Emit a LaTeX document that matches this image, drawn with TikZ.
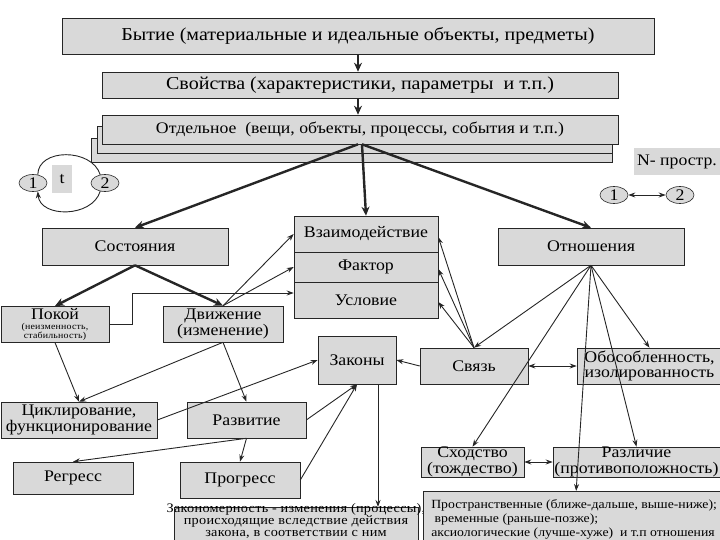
\documentclass[tikz,border=0pt]{standalone}
\usepackage{fontspec}
\setmainfont{Liberation Serif}[FakeStretch=1.1]
\newfontfamily\diagfont{Liberation Serif}[FakeStretch=1.1]
\newfontfamily\notefont{Liberation Serif}[FakeStretch=1.1,LetterSpace=2]
\usetikzlibrary{arrows.meta,shapes.geometric}

\definecolor{boxgray}{RGB}{217,217,217}
\newcommand{\fhead}{\diagfont\fontsize{18.2}{20}\selectfont}
\newcommand{\fbig}{\diagfont\fontsize{16.2}{15.5}\selectfont}
\newcommand{\fmid}{\diagfont\fontsize{16.1}{17}\selectfont}
\newcommand{\fnote}{\notefont\fontsize{13}{12.3}\selectfont}
\newcommand{\flist}{\diagfont\fontsize{12.5}{14}\selectfont}
\newcommand{\ftiny}{\notefont\fontsize{9}{9}\selectfont}

\tikzset{
  box/.style={draw=black!85, fill=boxgray, line width=0.6pt, inner sep=1pt,
    align=center, font=\fbig},
  oval/.style={ellipse, draw=black!85, fill=boxgray, line width=0.6pt,
    inner sep=0pt, minimum width=28pt, minimum height=17pt, font=\fbig},
  tag/.style={fill=boxgray, inner sep=0pt, font=\fbig},
  mainlink/.style={-{Stealth[length=9pt,width=8pt]}, line width=2.4pt, black!85},
  link/.style={-{Stealth[length=7pt,width=5pt]}, line width=0.9pt, black!85},
  duallink/.style={{Stealth[length=7pt,width=5pt]}-{Stealth[length=7pt,width=5pt]},
    line width=0.9pt, black!85},
}

\begin{document}
\begin{tikzpicture}[x=1pt,y=-1pt]
  \useasboundingbox (0,0) rectangle (720,540);

  % Top chain
  \node[box, font=\fhead, minimum width=592pt, minimum height=36pt] (byt) at (358,36)
    {Бытие (материальные и идеальные объекты, предметы)};
  \node[box, font=\fhead, minimum width=516pt, minimum height=26pt] (svo) at (360,85)
    {Свойства (характеристики, параметры\ \ и т.п.)};
  % stacked boxes behind
  \draw[draw=black!85, fill=boxgray, line width=0.6pt] (91,138) rectangle (612,162);
  \draw[draw=black!85, fill=boxgray, line width=0.6pt] (97,126) rectangle (612,153);
  \node[box, font=\fmid, minimum width=516pt, minimum height=29pt] (otd) at (360,129.5)
    {Отдельное\ \ (вещи, объекты, процессы, события и т.п.)};

  % Time and space marks
  \node[oval] (t1) at (33,183) {1};
  \node[oval] (t2) at (105,183) {2};
  \node[tag, minimum width=20pt, minimum height=28pt] (tt) at (62,179) {t};
  \node[tag, minimum width=86pt, minimum height=27pt, font=\fmid] (np) at (677,161.5) {N- простр.};
  \node[oval] (n1) at (614,195) {1};
  \node[oval] (n2) at (680,195) {2};

  % Middle level
  \node[box, minimum width=186pt, minimum height=37pt] (sost) at (135,246.5) {Состояния};
  \node[box, minimum width=144pt, minimum height=36pt] (vz) at (366,234) {Взаимодействие};
  \node[box, minimum width=144pt, minimum height=30pt] (fak) at (366,267) {Фактор};
  \node[box, minimum width=144pt, minimum height=36pt] (usl) at (366,300) {Условие};
  \node[box, minimum width=186pt, minimum height=37pt] (otn) at (591,246.5) {Отношения};

  \node[box, font=\ftiny, minimum width=108pt, minimum height=36pt, inner sep=0pt,
    anchor=north] (pok) at (55,306)
    {{\fbig Покой}\\[1.5pt](неизменность,\\стабильность)};
  \node[box, minimum width=120pt, minimum height=36pt] (dvi) at (223,324)
    {Движение\\(изменение)};
  \node[box, minimum width=78pt, minimum height=48pt] (zak) at (357,360) {Законы};
  \node[box, minimum width=108pt, minimum height=36pt] (svz) at (474,366) {Связь};
  \node[box, minimum width=145pt, minimum height=36pt, inner sep=0pt] (obo) at (649.5,366)
    {Обособленность,\\изолированность};

  % Lower level
  \node[box, minimum width=156pt, minimum height=36pt, inner sep=0pt] (cik) at (79,420)
    {Циклирование,\\функционирование};
  \node[box, minimum width=119pt, minimum height=36pt] (raz) at (246.5,420) {Развитие};
  \node[box, minimum width=120pt, minimum height=32pt] (reg) at (73,478) {Регресс};
  \node[box, minimum width=120pt, minimum height=36pt] (pro) at (240,480) {Прогресс};
  \node[box, minimum width=103pt, minimum height=30pt, inner sep=0pt] (sho) at (472.5,462)
    {Сходство\\(тождество)};
  \node[box, minimum width=167pt, minimum height=30pt, inner sep=0pt] (rzl) at (636.5,462)
    {Различие\\(противоположность)};

  % Bottom notes
  \node[box, minimum width=244pt, minimum height=40pt, anchor=north] (zkm) at (296,507) {};
  \node[font=\fnote, align=center, inner sep=0pt, anchor=north] (zkmtxt)
    at ([yshift=4pt]zkm.north)
    {Закономерность - изменения (процессы),\\происходящие вследствие действия\\закона, в соответствии с ним};
  \node[box, font=\flist, minimum width=300pt, minimum height=56pt, anchor=north west,
    align=left, inner xsep=8pt, inner ysep=4pt] (prs) at (423,491)
    {Пространственные (ближе-дальше, выше-ниже);\\\ временные (раньше-позже);\\аксиологические (лучше-хуже)\ \ и т.п отношения};

  % Main arrows
  \draw[mainlink] (byt.south) -- (svo.north -| byt.south);
  \draw[mainlink] (svo.south -| byt.south) -- (otd.north -| byt.south);
  \draw[mainlink] ([xshift=-2pt]otd.south) -- (sost.north);
  \draw[mainlink] ([xshift=2pt]otd.south) -- (vz.north);
  \draw[mainlink] ([xshift=2pt]otd.south) -- (otn.north);
  \draw[mainlink] (sost.south) -- (pok.north);
  \draw[mainlink] (sost.south) -- (dvi.north);

  % Cycle and space
  \draw[line width=0.9pt, black!85] (t1.60) .. controls (38,148) and (92,148) .. (t2.120);
  \draw[link] (t2.240) .. controls (92,218) and (40,218) .. (t1.300);
  \draw[duallink] (n1.east) -- (n2.west);

  % Thin arrows
  \draw[link] (pok.east) -- ++(23,0) |- ([yshift=7pt]usl.west);
  \draw[link] (dvi.north) -- (vz.west);
  \draw[link] (dvi.north) -- (fak.west);
  \draw[link] (pok.south) -- (cik.north);
  \draw[link] (dvi.south) -- (cik.north);
  \draw[link] (dvi.south) -- (raz.north);
  \draw[link] (cik.east) -- (zak.west);
  \draw[link] (raz.east) -- (zak.south);
  \draw[link] (pro.east) -- (zak.south);
  \draw[link] (raz.south) -- (reg.north);
  \draw[link] (raz.south) -- (pro.north);
  \draw[link] ([xshift=21pt]zak.south) -- ([xshift=21pt]zak.south |- zkm.north);
  \draw[link] (svz.west) -- (zak.east);
  \draw[link] (svz.north) -- ([yshift=-3pt]vz.east);
  \draw[link] (svz.north) -- ([yshift=-2pt]fak.east);
  \draw[link] (svz.north) -- ([yshift=-2pt]usl.east);
  \draw[link] (otn.south) -- (svz.north);
  \draw[link] (otn.south) -- (obo.north);
  \draw[link] (otn.south) -- (sho.north);
  \draw[link] (otn.south) -- (rzl.north);
  \draw[link] (otn.south) -- ([xshift=2pt]prs.north);
  \draw[duallink] (svz.east) -- (obo.west);
  \draw[duallink] (sho.east) -- (rzl.west);
\end{tikzpicture}
\end{document}
